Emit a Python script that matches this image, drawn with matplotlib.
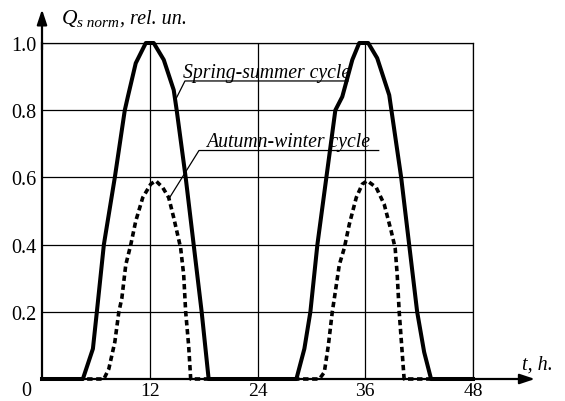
import matplotlib
matplotlib.use("Agg")
import matplotlib.pyplot as plt

plt.rcParams['font.family'] = ['Liberation Serif', 'DejaVu Serif']

# Normalized solar heat flow over two days (hours, relative units)
spring_t = [0, 4.55, 5.67, 6.11, 6.89, 8.11, 9.22, 9.56, 10.44, 11.56, 12.44,
            13.56, 14.67, 15.0, 16.0, 16.89, 17.78, 18.56,
            28.33, 29.22, 29.89, 30.67, 31.67, 32.67, 33.44, 34.56, 35.33, 36.33,
            37.33, 38.67, 40.0, 40.89, 41.78, 42.56, 43.33, 48]
spring_q = [0, 0, 0.09, 0.2, 0.4, 0.6, 0.8, 0.84, 0.94, 1.0, 1.0,
            0.95, 0.86, 0.8, 0.6, 0.4, 0.2, 0,
            0, 0.09, 0.2, 0.4, 0.6, 0.8, 0.84, 0.95, 1.0, 1.0,
            0.955, 0.845, 0.6, 0.4, 0.2, 0.08, 0, 0]

autumn_t = [0, 6.89, 7.44, 8.11, 8.56, 8.89, 9.33, 9.89, 10.44, 11.22, 12.11,
            12.67, 13.44, 14.11, 14.67, 15.44, 15.78, 16.0, 16.33, 16.56,
            30.89, 31.44, 31.89, 32.33, 32.67, 33.11, 33.67, 34.22, 35.0, 35.67,
            36.22, 37.22, 38.11, 38.89, 39.33, 39.56, 39.78, 40.11, 40.33, 48]
autumn_q = [0, 0, 0.03, 0.11, 0.2, 0.24, 0.34, 0.40, 0.47, 0.54, 0.58,
            0.59, 0.57, 0.54, 0.48, 0.39, 0.31, 0.2, 0.10, 0,
            0, 0.02, 0.10, 0.2, 0.26, 0.34, 0.39, 0.46, 0.54, 0.58,
            0.59, 0.57, 0.52, 0.44, 0.39, 0.31, 0.2, 0.08, 0, 0]

x_ticks = [12, 24, 36, 48]
y_ticks = [0.2, 0.4, 0.6, 0.8, 1.0]
y_tick_labels = ["0.2", "0.4", "0.6", "0.8", "1.0"]

W, H = 565, 402
fig = plt.figure(figsize=(W / 100, H / 100), dpi=100)
ax = fig.add_axes([42 / W, (H - 380) / H, (473 - 42) / W, (380 - 44) / H])
ax.set_xlim(0, 48)
ax.set_ylim(0, 1)

# grid box
for s in ['top', 'right']:
    ax.spines[s].set_linewidth(0.9)
for s in ['left', 'bottom']:
    ax.spines[s].set_linewidth(1.6)
ax.set_xticks(x_ticks)
ax.set_yticks(y_ticks)
ax.set_xticklabels([str(v) for v in x_ticks])
ax.set_yticklabels(y_tick_labels)
ax.tick_params(axis='y', length=0, labelsize=14.5, pad=4)
ax.tick_params(axis='x', length=0, labelsize=14, pad=2)
ax.grid(True, color='black', lw=0.9)

ax.plot(spring_t, spring_q, color='black', lw=2.9, solid_joinstyle='round',
        clip_on=False, zorder=3)
ax.plot(autumn_t, autumn_q, color='black', lw=2.6, linestyle=(0, (1.5, 1.0)),
        clip_on=False, zorder=3)

# axis arrows
ax.annotate('', xy=(0, 1.10), xytext=(0, 0.98), annotation_clip=False,
            arrowprops=dict(arrowstyle='-|>,head_length=0.9,head_width=0.3',
                            color='black', lw=1.6, shrinkA=0, shrinkB=0))
ax.annotate('', xy=(54.9, 0), xytext=(47, 0), annotation_clip=False,
            arrowprops=dict(arrowstyle='-|>,head_length=0.9,head_width=0.3',
                            color='black', lw=1.6, shrinkA=0, shrinkB=0))

ax.text(-1.7, -0.033, "0", fontsize=14.5, ha='center', va='center')

# axis titles
ax.text(2.2, 1.06, "Q", fontsize=15.5, style='italic', ha='left', va='baseline')
ax.text(3.95, 1.05, "s norm", fontsize=11, style='italic', ha='left',
        va='baseline')
ax.text(8.65, 1.06, ", rel. un.", fontsize=14.5, style='italic', ha='left',
        va='baseline')
ax.text(53.5, 0.03, "t, h.", fontsize=14.5, style='italic',
        ha='left', va='baseline')

# callouts
ax.plot([14.85, 15.92, 34.08], [0.83, 0.887, 0.887], color='black', lw=0.9,
        clip_on=False)
ax.text(15.7, 0.899, "Spring-summer cycle", fontsize=14.2, style='italic',
        ha='left', va='baseline')
ax.plot([14.1, 17.48, 37.5], [0.535, 0.68, 0.68], color='black', lw=0.9,
        clip_on=False)
ax.text(18.26, 0.693, "Autumn-winter cycle", fontsize=14.2, style='italic',
        ha='left', va='baseline')

fig.savefig("out.png", dpi=100)
